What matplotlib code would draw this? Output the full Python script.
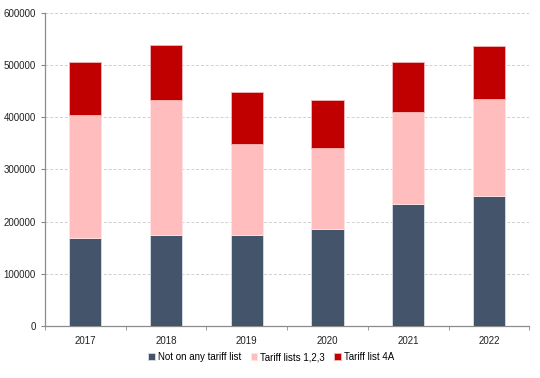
import numpy as np
import matplotlib.pyplot as plt

plt.rcParams["font.family"] = "Liberation Sans"

# data
years = ["2017", "2018", "2019", "2020", "2021", "2022"]
not_listed = [169000, 175000, 175000, 186000, 233000, 248000]
lists_123 = [235000, 257000, 174000, 155000, 176000, 187000]
list_4a = [101000, 107000, 100000, 92000, 96000, 101000]

fig = plt.figure(figsize=(5.4, 3.78), dpi=100)
ax = fig.add_axes([0.0833, 0.138, 0.897, 0.828])

x = np.arange(len(years))
bottom2 = np.array(not_listed)
bottom3 = bottom2 + np.array(lists_123)

ax.bar(x, not_listed, width=0.4, color="#44546A", edgecolor="#D9DEE6", linewidth=0.6,
       label="Not on any tariff list", zorder=3)
ax.bar(x, lists_123, width=0.4, bottom=bottom2, color="#FFBDBD", edgecolor="#FFE3E3",
       linewidth=0.6, label="Tariff lists 1,2,3", zorder=3)
ax.bar(x, list_4a, width=0.4, bottom=bottom3, color="#C00000", edgecolor="#F2B8B8",
       linewidth=0.6, label="Tariff list 4A", zorder=3)

ax.set_xlim(-0.5, len(years) - 0.5)
ax.set_ylim(0, 600000)
ax.set_yticks(np.arange(0, 600001, 100000))
ax.yaxis.grid(True, linestyle=(0, (3, 2)), color="#D0D0D0", linewidth=0.7, zorder=0)

ax.set_xticks(x)
ax.set_xticklabels(years)
ax.set_xticks(np.arange(-0.5, len(years), 1), minor=True)
ax.tick_params(axis="x", which="major", length=0, labelsize=7, pad=7, colors="#222222")
ax.tick_params(axis="x", which="minor", length=3, direction="out", color="#888888")
ax.tick_params(axis="y", length=3, direction="out", color="#888888", labelsize=7,
               labelcolor="#222222")

for s in ["top", "right"]:
    ax.spines[s].set_visible(False)
for s in ["left", "bottom"]:
    ax.spines[s].set_color("#8C8C8C")
    ax.spines[s].set_linewidth(0.9)

ax.legend(loc="center", bbox_to_anchor=(0.467, -0.1), borderaxespad=0, ncol=3,
          frameon=False, fontsize=7, handlelength=0.7, handleheight=0.7,
          handletextpad=0.25, columnspacing=1.0)

fig.savefig("out.png", dpi=100)
